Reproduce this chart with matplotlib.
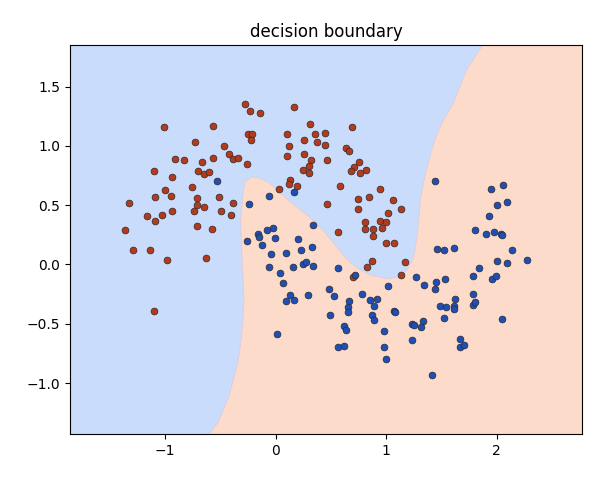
import numpy as np
import matplotlib
matplotlib.use("Agg")
import matplotlib.pyplot as plt

# Upper moon (drawn red)
red_x = [-0.28, -0.23, -0.14, -1.01, -0.57, 0.17, 0.31, 0.69, -0.25, -0.21,
         -0.22, 0.10, 0.36, 0.45, -0.73, -0.47, -0.42, -0.39, -0.34, -0.91,
         -0.83, -0.67, -0.57, -0.26, 0.26, 0.37, 0.45, 0.12, 0.64, 0.66,
         0.26, 0.10, 0.32, 0.46, 0.30, 0.75, 0.71, 0.68, 0.82, 0.76,
         0.25, 0.30, 0.13, 0.12, 0.19, 0.03, 0.58, 0.94, -1.10, -0.70,
         -0.65, -0.60, -0.94, -1.00, -0.76, -1.09, -0.95, -0.71, -0.51, -1.33,
         -0.39, -0.71, -1.16, -1.03, -1.09, -0.94, -0.74, -0.65, -0.49, -0.40,
         -1.36, -0.71, -0.58, -1.29, -1.14, -0.98, -0.63, -1.10, 0.74, 0.84,
         0.46, 0.74, 1.02, 0.81, 0.94, 1.00, 0.81, 0.88, 0.96, 0.88,
         0.56, 1.00, 0.87, 0.83, 0.70, 1.06, 1.13, 1.07, 1.17, 1.13]
red_y = [1.35, 1.29, 1.28, 1.16, 1.17, 1.33, 1.18, 1.16, 1.10, 1.10,
         1.05, 1.10, 1.10, 1.11, 1.03, 1.00, 0.93, 0.89, 0.90, 0.89,
         0.88, 0.86, 0.90, 0.85, 1.05, 1.03, 1.01, 1.00, 0.98, 0.96,
         0.93, 0.91, 0.88, 0.88, 0.83, 0.86, 0.82, 0.79, 0.80, 0.77,
         0.80, 0.77, 0.71, 0.68, 0.66, 0.64, 0.66, 0.64, 0.79, 0.79,
         0.76, 0.78, 0.74, 0.63, 0.65, 0.57, 0.58, 0.56, 0.57, 0.52,
         0.52, 0.50, 0.41, 0.42, 0.37, 0.45, 0.45, 0.48, 0.45, 0.42,
         0.29, 0.32, 0.30, 0.12, 0.12, 0.04, 0.05, -0.39, 0.55, 0.57,
         0.51, 0.47, 0.43, 0.36, 0.37, 0.36, 0.30, 0.30, 0.31, 0.24,
         0.27, 0.18, 0.03, -0.02, -0.11, 0.54, 0.47, 0.18, 0.02, -0.09]

# Lower moon (drawn blue)
blue_x = [-0.53, -0.24, -0.26, -0.06, 0.17, 0.34, -0.02, -0.08, -0.16, -0.15,
          -0.01, -0.12, 0.20, 0.23, 0.33, 0.09, -0.04, 0.25, 0.27, 0.34,
          0.16, -0.06, 0.04, 0.56, 0.72, 0.07, 1.02, 0.48, 0.13, 0.29,
          0.53, 0.78, 0.09, 0.17, 0.66, 0.65, 0.65, 0.85, 0.92, 0.89,
          0.49, 0.87, 0.89, 0.01, 0.62, 0.64, 0.98, 0.56, 0.62, 0.98,
          1.00, 1.44, 1.95, 2.06, 2.09, 2.00, 1.93, 1.80, 1.90, 1.97,
          2.04, 2.05, 1.46, 1.52, 1.61, 2.14, 2.00, 2.09, 2.27, 1.84,
          1.78, 1.96, 1.99, 1.27, 1.34, 1.45, 1.44, 1.53, 1.78, 1.62,
          1.78, 1.80, 1.49, 1.54, 1.61, 1.61, 1.07, 1.08, 1.52, 2.05,
          1.33, 1.23, 1.25, 1.31, 1.23, 1.67, 1.67, 1.70, 1.41]
blue_y = [0.70, 0.51, 0.20, 0.58, 0.61, 0.33, 0.31, 0.29, 0.26, 0.23,
          0.22, 0.16, 0.21, 0.12, 0.15, 0.10, 0.09, 0.00, 0.02, -0.01,
          -0.02, -0.02, -0.07, -0.03, -0.09, -0.16, -0.18, -0.21, -0.26, -0.26,
          -0.27, -0.25, -0.31, -0.30, -0.31, -0.36, -0.40, -0.30, -0.29, -0.35,
          -0.43, -0.43, -0.47, -0.59, -0.52, -0.55, -0.56, -0.70, -0.69, -0.70,
          -0.80, 0.70, 0.64, 0.67, 0.53, 0.50, 0.41, 0.29, 0.26, 0.27,
          0.26, 0.25, 0.13, 0.12, 0.14, 0.12, 0.03, 0.01, 0.04, -0.03,
          -0.10, -0.12, -0.10, -0.11, -0.17, -0.15, -0.21, -0.12, -0.25, -0.29,
          -0.34, -0.32, -0.35, -0.36, -0.35, -0.38, -0.39, -0.40, -0.45, -0.46,
          -0.48, -0.50, -0.51, -0.53, -0.64, -0.63, -0.70, -0.68, -0.93]

# Decision boundary, traced from bottom edge to top edge
bnd_x = [-0.61, -0.52, -0.42, -0.34, -0.30, -0.287, -0.296, -0.31, -0.317, -0.296,
         -0.281, -0.22, -0.16, -0.07, 0.021, 0.097, 0.172, 0.323, 0.443, 0.564,
         0.654, 0.745, 0.866, 1.016, 1.107, 1.183, 1.228, 1.258, 1.279, 1.297,
         1.312, 1.324, 1.355, 1.394, 1.439, 1.50, 1.605, 1.726, 1.871]
bnd_y = [-1.44, -1.332, -1.106, -0.825, -0.543, -0.304, -0.093, 0.16, 0.386, 0.583,
         0.693, 0.737, 0.732, 0.695, 0.625, 0.555, 0.498, 0.386, 0.273, 0.133,
         0.034, -0.036, -0.093, -0.121, -0.107, -0.051, 0.019, 0.104, 0.245, 0.414,
         0.566, 0.625, 0.766, 0.906, 1.047, 1.188, 1.357, 1.639, 1.85]

all_x = np.array(red_x + blue_x)
all_y = np.array(red_y + blue_y)
x_min, x_max = all_x.min() - 0.5, all_x.max() + 0.5
y_min, y_max = all_y.min() - 0.5, all_y.max() + 0.5

fig = plt.figure(figsize=(6, 4.8), dpi=100)
ax = fig.add_axes([70/600, 1 - 434/480, 512/600, 389/480])

blue_bg = '#cadcfc'
red_bg = '#fddbcb'
ax.set_facecolor(blue_bg)

poly_x = bnd_x + [x_max + 1, x_max + 1, bnd_x[0]]
poly_y = bnd_y + [y_max + 1, y_min - 1, y_min - 1]
ax.fill(poly_x, poly_y, color=red_bg, lw=0, zorder=1)
ax.plot(bnd_x, bnd_y, color='#e0c8d8', lw=0.5, zorder=1.5)

ax.scatter(red_x, red_y, s=24, c='#b33a1c', edgecolors='#2a2a2a', linewidths=0.5, zorder=3)
ax.scatter(blue_x, blue_y, s=24, c='#1f4fb4', edgecolors='#2a2a2a', linewidths=0.5, zorder=3)

ax.set_xlim(x_min, x_max)
ax.set_ylim(y_min, y_max)
ax.set_xticks([-1, 0, 1, 2])
ax.set_yticks([-1.0, -0.5, 0.0, 0.5, 1.0, 1.5])
ax.set_title('decision boundary')

fig.savefig('out.png', dpi=100)
